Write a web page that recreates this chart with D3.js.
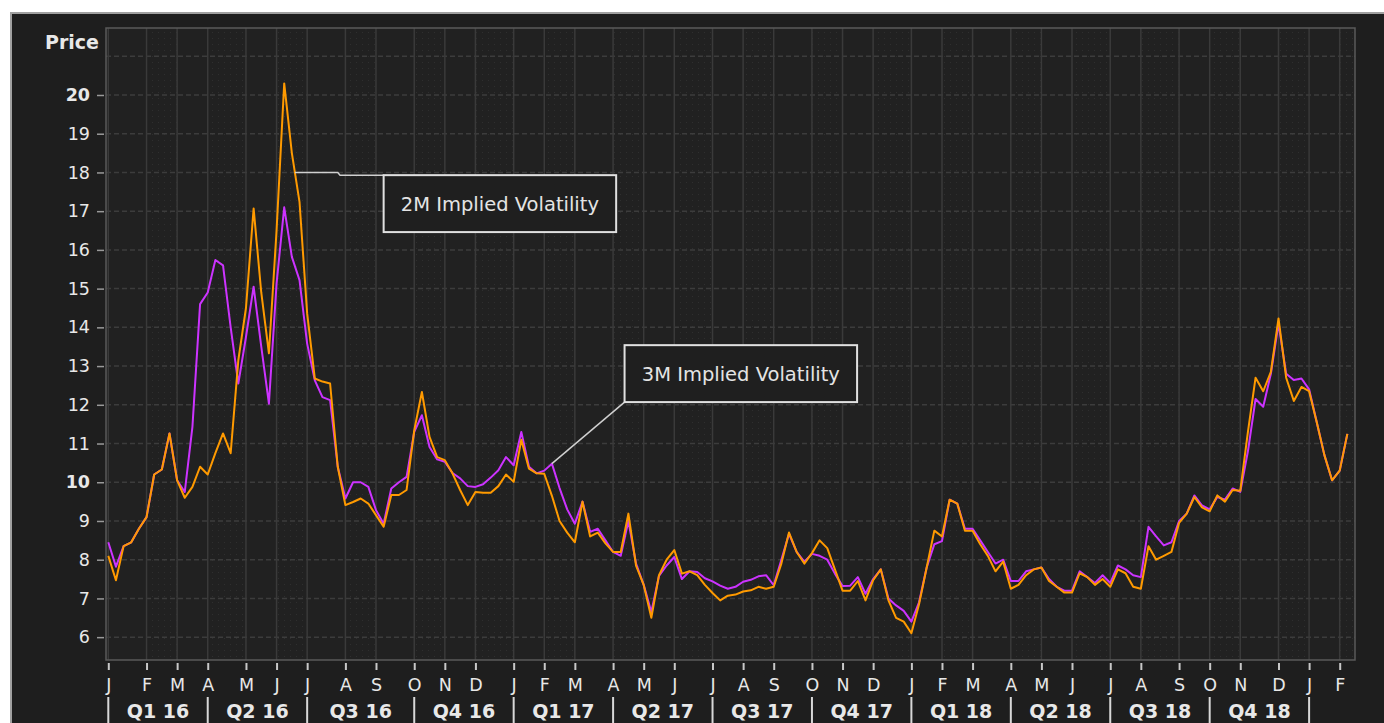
<!DOCTYPE html>
<html><head><meta charset="utf-8">
<script src="https://cdn.jsdelivr.net/npm/d3@7"></script>
<style>
html,body{margin:0;padding:0;background:#fff;overflow:hidden;}
svg{display:block;}
text{font-family:"DejaVu Sans",Verdana,sans-serif;}
</style></head><body>
<svg id="chart" width="1384" height="723"></svg>
<script>
// ---- data (weekly, Fridays from 2016-01-01) ----
const startDate = "2016-01-01";
const monthLetters = ["J","F","M","A","M","J","J","A","S","O","N","D"];
const yTickValues = [6,7,8,9,10,11,12,13,14,15,16,17,18,19,20];
const boldTickValues = [10,20];
const yAxisTitle = "Price";
const seriesNames = ["2M Implied Volatility","3M Implied Volatility"];
const seriesColors = ["#ff9a00","#cc33ff"];

const iv2m = [8.1,7.47,8.35,8.45,8.8,9.1,10.2,10.33,11.26,10.05,
9.6,9.88,10.4,10.2,10.75,11.26,10.75,13.15,14.5,17.07,
14.9,13.33,16.5,20.3,18.5,17.24,14.36,12.68,12.6,12.55,
10.4,9.41,9.49,9.58,9.45,9.15,8.85,9.67,9.67,9.8,
11.34,12.33,11.17,10.65,10.57,10.23,9.8,9.41,9.75,9.73,
9.73,9.9,10.2,10.01,11.1,10.35,10.23,10.22,9.65,9.0,
8.7,8.45,9.5,8.6,8.7,8.42,8.2,8.2,9.19,7.85,
7.35,6.5,7.6,8.0,8.25,7.64,7.7,7.6,7.35,7.14,
6.95,7.07,7.1,7.18,7.21,7.3,7.25,7.3,7.9,8.7,
8.2,7.9,8.17,8.5,8.3,7.75,7.2,7.2,7.45,6.95,
7.47,7.75,6.95,6.5,6.4,6.1,6.85,7.8,8.75,8.6,
9.55,9.45,8.75,8.75,8.4,8.1,7.7,7.95,7.25,7.35,
7.6,7.75,7.8,7.45,7.3,7.15,7.15,7.65,7.55,7.35,
7.5,7.3,7.75,7.65,7.3,7.25,8.35,8.0,8.1,8.2,
8.95,9.19,9.62,9.35,9.25,9.66,9.5,9.8,9.78,11.3,
12.7,12.35,12.85,14.23,12.7,12.1,12.46,12.35,11.55,10.7,
10.05,10.3,11.25];

const iv3m = [8.45,7.82,8.35,8.45,8.8,9.1,10.2,10.33,11.26,10.05,
9.75,11.43,14.6,14.9,15.74,15.6,14.0,12.55,13.75,15.05,
13.5,12.03,15.13,17.1,15.82,15.22,13.58,12.63,12.2,12.12,
10.4,9.58,10.0,10.0,9.88,9.28,8.93,9.84,10.0,10.14,
11.3,11.73,10.91,10.59,10.53,10.24,10.1,9.9,9.88,9.95,
10.12,10.31,10.65,10.44,11.3,10.4,10.23,10.3,10.48,9.85,
9.3,8.93,9.5,8.72,8.8,8.5,8.2,8.1,9.0,7.9,
7.35,6.65,7.58,7.85,8.07,7.5,7.7,7.68,7.52,7.44,
7.33,7.25,7.3,7.43,7.48,7.57,7.6,7.34,8.0,8.67,
8.2,7.95,8.15,8.1,8.0,7.64,7.32,7.33,7.55,7.12,
7.5,7.75,7.0,6.82,6.68,6.4,6.9,7.8,8.4,8.48,
9.55,9.45,8.8,8.8,8.5,8.2,7.9,8.0,7.45,7.45,
7.7,7.75,7.8,7.5,7.3,7.2,7.2,7.7,7.55,7.4,
7.6,7.4,7.85,7.75,7.6,7.55,8.85,8.6,8.37,8.45,
9.0,9.19,9.66,9.4,9.3,9.62,9.55,9.84,9.75,10.8,
12.15,11.95,12.8,14.1,12.8,12.64,12.68,12.4,11.55,10.7,
10.05,10.3,11.25];

// ---- layout ----
const plot = {l:106, t:28, r:1355, b:660};
const svg = d3.select("#chart");
const x = d3.scaleLinear().domain([-0.3, 163]).range([plot.l, plot.r]);
const y = d3.scaleLinear().domain([5.41, 21.73]).range([plot.b, plot.t]);

const t0 = d3.utcParse("%Y-%m-%d")(startDate);
const dates = iv2m.map((_, i) => d3.utcDay.offset(t0, 7 * i));
const monthIdx = [];
dates.forEach((d, i) => { if (i === 0 || d.getUTCMonth() !== dates[i-1].getUTCMonth()) monthIdx.push(i); });
const quarterIdx = monthIdx.filter(i => dates[i].getUTCMonth() % 3 === 0);

// backgrounds
svg.append("rect").attr("x",0).attr("y",0).attr("width",1384).attr("height",723).attr("fill","#ffffff");
svg.append("rect").attr("x",11).attr("y",13).attr("width",1390).attr("height",720)
  .attr("fill","#1e1e1e").attr("stroke","#a0a0a0").attr("stroke-width",2);

const defs = svg.append("defs");
const pat = defs.append("pattern").attr("id","dots").attr("width",6).attr("height",6).attr("patternUnits","userSpaceOnUse");
pat.append("rect").attr("x",2).attr("y",2).attr("width",1).attr("height",1).attr("fill","#2f2f2f");
defs.append("clipPath").attr("id","clip").append("rect")
  .attr("x",plot.l).attr("y",plot.t).attr("width",plot.r-plot.l).attr("height",plot.b-plot.t);

svg.append("rect").attr("x",plot.l).attr("y",plot.t).attr("width",plot.r-plot.l).attr("height",plot.b-plot.t)
  .attr("fill","#212121");

const g = svg.append("g").attr("clip-path","url(#clip)");
// dotted texture in alternate month columns
const bounds = monthIdx.map(i => x(i)).concat([plot.r]);
for (let k = 0; k < bounds.length - 1; k++) {
  if (k % 2 === 1) g.append("rect").attr("x", bounds[k]).attr("y", plot.t).attr("width", bounds[k+1]-bounds[k])
    .attr("height", plot.b-plot.t).attr("fill","url(#dots)");
}
// grid
g.selectAll(".hg").data(d3.range(6, 22)).join("line")
  .attr("x1",plot.l).attr("x2",plot.r).attr("y1",d=>y(d)).attr("y2",d=>y(d))
  .attr("stroke","#3c3c3c").attr("stroke-width",1.5).attr("stroke-dasharray","5,3");
g.selectAll(".vg").data(monthIdx).join("line")
  .attr("x1",d=>x(d)).attr("x2",d=>x(d)).attr("y1",plot.t).attr("y2",plot.b)
  .attr("stroke","#3a3a3a").attr("stroke-width",1.5);

// series
const line = d3.line().x((d, i) => x(i)).y(d => y(d));
g.append("path").datum(iv3m).attr("d", line).attr("fill","none")
  .attr("stroke", seriesColors[1]).attr("stroke-width", 2).attr("stroke-linejoin","round");
g.append("path").datum(iv2m).attr("d", line).attr("fill","none")
  .attr("stroke", seriesColors[0]).attr("stroke-width", 2).attr("stroke-linejoin","round");

// plot border
svg.append("rect").attr("x",plot.l).attr("y",plot.t).attr("width",plot.r-plot.l).attr("height",plot.b-plot.t)
  .attr("fill","none").attr("stroke","#5a5a5a").attr("stroke-width",1.5);

// y axis
const yAxis = d3.axisLeft(y).tickValues(yTickValues).tickSize(7).tickPadding(7).tickFormat(d3.format("d"));
const ya = svg.append("g").attr("transform",`translate(${plot.l-2},0)`).call(yAxis);
ya.select(".domain").remove();
ya.selectAll(".tick line").attr("stroke","#9a9a9a").attr("stroke-width",1.5);
ya.selectAll(".tick text").attr("fill","#e8e8e8").style("font-size","17.5px")
  .style("font-family","'DejaVu Sans',sans-serif")
  .style("font-weight", d => boldTickValues.includes(d) ? "bold" : "normal");
svg.append("text").attr("x",99).attr("y",49).attr("text-anchor","end")
  .attr("fill","#e8e8e8").style("font-size","19px").style("font-weight","bold").text(yAxisTitle);

// x axis months
const xAxis = d3.axisBottom(x).tickValues(monthIdx).tickSize(7).tickPadding(9)
  .tickFormat(i => monthLetters[dates[i].getUTCMonth()]);
const xa = svg.append("g").attr("transform",`translate(0,${plot.b+3})`).call(xAxis);
xa.select(".domain").remove();
xa.selectAll(".tick line").attr("stroke","#c8c8c8").attr("stroke-width",2);
xa.selectAll(".tick text").attr("fill","#e8e8e8").style("font-size","17.5px")
  .style("font-family","'DejaVu Sans',sans-serif");

// quarter row
svg.selectAll(".qsep").data(quarterIdx).join("line")
  .attr("x1",d=>x(d)).attr("x2",d=>x(d)).attr("y1",697).attr("y2",723)
  .attr("stroke","#d8d8d8").attr("stroke-width",2);
const qPairs = d3.pairs(quarterIdx);
svg.selectAll(".qlab").data(qPairs).join("text")
  .attr("x", d => (x(d[0]) + x(d[1])) / 2).attr("y", 718).attr("text-anchor","middle")
  .attr("fill","#e8e8e8").style("font-size","19px").style("font-weight","bold")
  .text(d => "Q" + (Math.floor(dates[d[0]].getUTCMonth()/3)+1) + " " + String(dates[d[0]].getUTCFullYear()).slice(2));

// annotations
function callout(box, pts, label) {
  svg.append("path").attr("d", d3.line()(pts)).attr("fill","none")
    .attr("stroke","#d0d0d0").attr("stroke-width",1.5);
  svg.append("rect").attr("x", x(box[0])).attr("y", y(box[1]))
    .attr("width", x(box[2]) - x(box[0])).attr("height", y(box[3]) - y(box[1]))
    .attr("fill","#1f1f1f").attr("stroke","#e0e0e0").attr("stroke-width",2);
  svg.append("text").attr("x", (x(box[0]) + x(box[2])) / 2).attr("y", (y(box[1]) + y(box[3])) / 2 + 7)
    .attr("text-anchor","middle").attr("fill","#e4e4e4").style("font-size","19.5px").text(label);
}
callout([36.0, 17.93, 66.4, 16.46],
  [[x(24.4), y(18)], [x(30.0), y(18)], [x(30.3), y(17.93)], [x(36.0), y(17.93)]], seriesNames[0]);
callout([67.5, 13.54, 97.9, 12.07],
  [[x(58), y(10.48)], [x(67.5), y(12.07)]], seriesNames[1]);
</script>
</body></html>
